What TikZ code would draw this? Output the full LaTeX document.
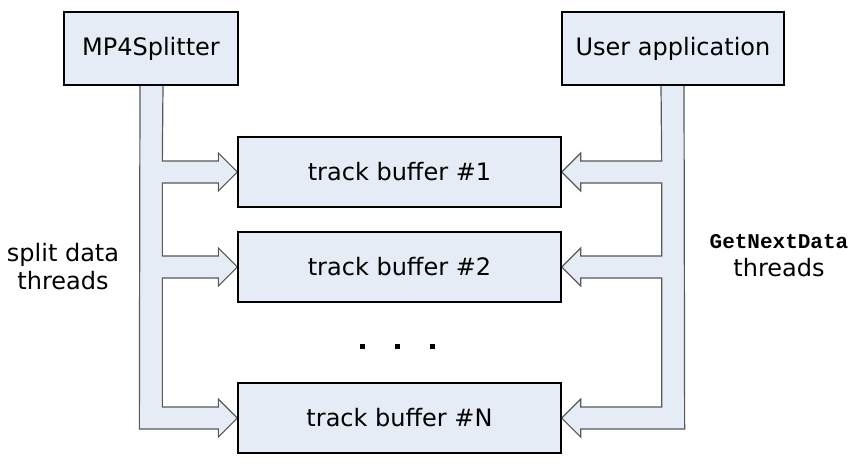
\documentclass[tikz,border=0pt]{standalone}
\usepackage{fontspec}
\setmainfont{DejaVu Sans}
\newfontfamily\codefont{Liberation Mono}
\usepackage{tikz}
\usetikzlibrary{calc,backgrounds}

\definecolor{boxfill}{RGB}{230,236,246}
\definecolor{pipegray}{RGB}{88,88,88}

\tikzset{
    box/.style={draw=black, fill=boxfill, line width=1.3pt, inner sep=0pt, font=\fontsize{24}{28}\selectfont},
    pipe/.style={draw=pipegray, fill=boxfill, line width=1.2pt, line join=miter},
    side/.style={align=center, font=\fontsize{24}{28}\selectfont}
}

% branch of the left pipe, from the bar into a buffer
\newcommand{\splitbranch}[1]{-- ($(#1.west)+(-75,11)$) -- ++(56,0) -- ++(0,8) -- (#1.west) -- ++(-19,-19) -- ++(0,8) -- ++(-56,0)}
% branch of the right pipe, from the bar into a buffer
\newcommand{\userbranch}[1]{-- ($(#1.east)+(100,-11)$) -- ++(-81,0) -- ++(0,-8) -- (#1.east) -- ++(19,19) -- ++(0,-8) -- ++(81,0)}

\begin{document}
\begin{tikzpicture}[x=1pt, y=-1pt]
    \useasboundingbox (0,0) rectangle (859,466);

    \node[box, minimum width=174pt, minimum height=73pt] (split) at (151,48.5) {MP4Splitter};
    \node[box, minimum width=222pt, minimum height=73pt] (user) at (673,48.5) {User application};
    \node[box, minimum width=323pt, minimum height=70pt] (buf1) at (399.5,172) {track buffer \#1};
    \node[box, minimum width=323pt, minimum height=70pt] (buf2) at (399.5,267) {track buffer \#2};
    \node[box, minimum width=323pt, minimum height=70pt] (bufN) at (399.5,418) {track buffer \#N};

    \node[side] (splitlabel) at (63,267) {split data\\threads};
    \node[side] (userlabel) at (779,256) {{\codefont\bfseries\fontsize{21}{24}\selectfont GetNextData}\\threads};

    \foreach \x in {362,397,432}
        \fill (\x-2.5,343.5) rectangle ++(5,5);

    \begin{scope}[on background layer]
        % splitter pipe
        \draw[pipe] (140,85) -- ($(bufN.west)+(-98,11)$) -- ++(79,0) -- ++(0,8) -- (bufN.west)
            -- ++(-19,-19) -- ++(0,8) -- ++(-56,0) \splitbranch{buf2} \splitbranch{buf1} -- (163,85) -- cycle;
        % application pipe
        \draw[pipe] (661,85) \userbranch{buf1} \userbranch{buf2} -- ($(bufN.east)+(100,-11)$) -- ++(-81,0)
            -- ++(0,-8) -- (bufN.east) -- ++(19,19) -- ++(0,-8) -- ++(104,0) -- (684,85) -- cycle;
    \end{scope}
\end{tikzpicture}
\end{document}
